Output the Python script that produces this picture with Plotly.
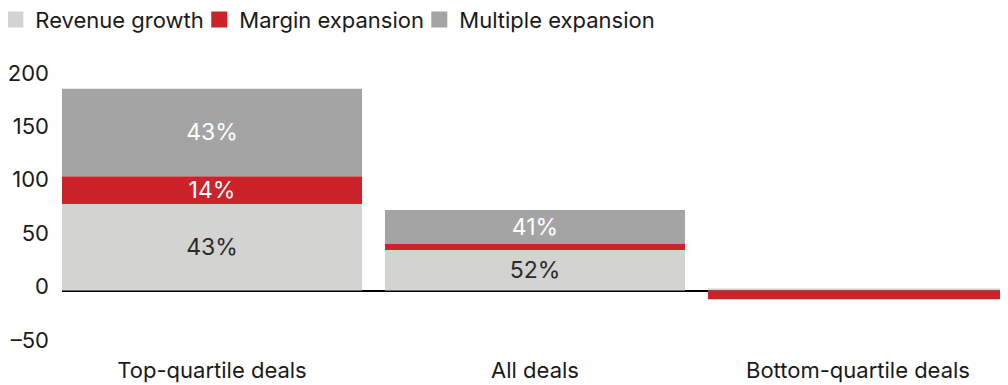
# Stacked bars: value creation split by deal quartile
import plotly.graph_objects as go

categories = ['Top-quartile deals', 'All deals', 'Bottom-quartile deals']
revenue_growth = [81, 38, 2]
margin_expansion = [26, 5.5, -8]
multiple_expansion = [82, 32, 0]

revenue_labels = ['43%', '52%', '']
margin_labels = ['14%', '', '']
multiple_labels = ['43%', '41%', '']

series_names = ['Revenue growth', 'Margin expansion', 'Multiple expansion']
series_colors = ['#d3d3d2', '#cc2229', '#a3a4a3']

y_ticks = [-50, 0, 50, 100, 150, 200]
y_tick_text = ['–50', '0', '50', '100', '150', '200']

font_family = 'Inter, Roboto, sans-serif'

fig = go.Figure()
bar_values = [revenue_growth, margin_expansion, multiple_expansion]
bar_labels = [revenue_labels, margin_labels, multiple_labels]
label_colors = ['#2a2a2a', 'white', 'white']
for name, vals, labels, color, tcolor in zip(series_names, bar_values, bar_labels,
                                            series_colors, label_colors):
    fig.add_trace(go.Bar(x=categories, y=vals, name=name, marker_color=color,
                         text=labels, textposition='inside', insidetextanchor='middle',
                         textfont=dict(color=tcolor, size=23), showlegend=False,
                         marker_line_width=0))

# legend-only entries with larger square swatches, one legend each so spacing can be set
legend_ids = ['legend', 'legend2', 'legend3']
legend_x = [-0.0705, 0.1451, 0.3777]
for name, color, lid in zip(series_names, series_colors, legend_ids):
    fig.add_trace(go.Scatter(x=[None], y=[None], mode='markers', name=name, legend=lid,
                             marker=dict(symbol='square', size=20, color=color)))

# bars fill the plot edge to edge, 22px gaps between them
bar_gap = 0.071
half = (1 - bar_gap) / 2

# page body adds an 8px offset, so the figure is 8px smaller than the window
fig.update_layout(
    barmode='relative',
    bargap=bar_gap,
    width=1000, height=377,
    margin=dict(l=54, r=0, t=65, b=41, autoexpand=False),
    plot_bgcolor='white', paper_bgcolor='white',
    font=dict(family=font_family, size=22, color='#1a1a1a'),
    uniformtext=dict(minsize=23, mode='show'),
)
for lid, lx in zip(legend_ids, legend_x):
    fig.update_layout({lid: dict(orientation='h', x=lx, xanchor='left', y=1.1967,
                                 yanchor='middle', font=dict(size=22), itemwidth=30,
                                 itemsizing='trace', bgcolor='rgba(0,0,0,0)')})

# tick labels sit a few px above their value, as in the original
fig.update_yaxes(range=[-50, 203.65], tickvals=y_ticks, ticktext=y_tick_text,
                 ticklabelshift=-4,
                 showgrid=False, zeroline=True, zerolinecolor='black', zerolinewidth=2,
                 showline=False, ticks='', ticklabelstandoff=12, layer='above traces',
                 automargin=False)
fig.update_xaxes(range=[-half, len(categories) - 1 + half],
                 showgrid=False, showline=False, ticks='', ticklabelstandoff=11,
                 automargin=False)

fig.write_html('out.html')
